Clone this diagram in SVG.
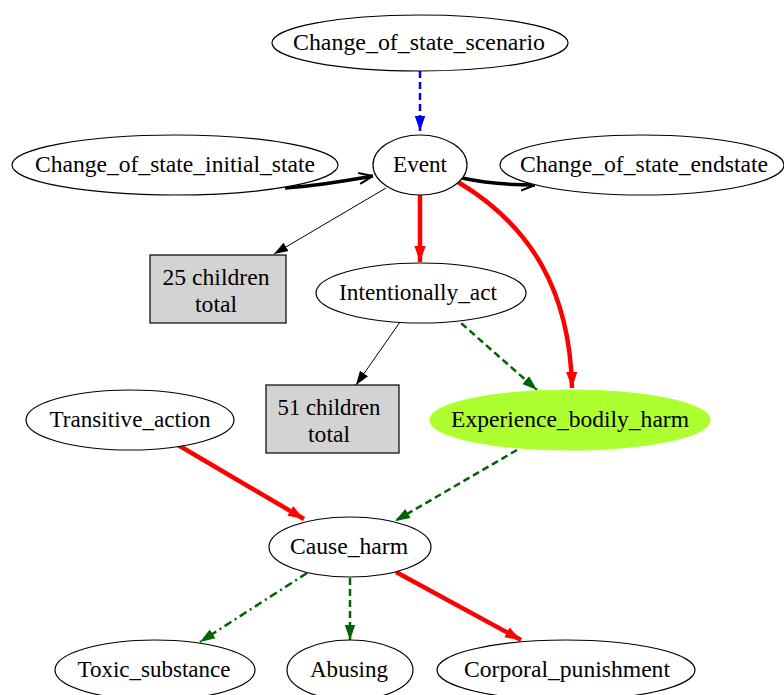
<svg xmlns="http://www.w3.org/2000/svg" width="784" height="695" viewBox="0 0 784 695">
<style>
.n ellipse, .n rect { stroke: #000; stroke-width: 1.2; }
.n ellipse { fill: #fff; }
.box { fill: #d3d3d3; }
text { font-family: "Liberation Serif", "Times New Roman", serif; font-size: 23px; text-anchor: middle; fill: #000; }
.e { fill: none; }
.red { stroke: #ff0000; stroke-width: 4.5; }
.green { stroke: #006400; stroke-width: 2.5; stroke-dasharray: 7,4; }
.blue { stroke: #0000ff; stroke-width: 2.5; stroke-dasharray: 7,4; }
.thin { stroke: #000; stroke-width: 1; }
.thick { stroke: #000; stroke-width: 3.5; }
</style>
<defs>
<marker id="aBlack" viewBox="0 0 10 10" refX="10" refY="5" markerUnits="userSpaceOnUse" markerWidth="14" markerHeight="14" orient="auto"><path d="M0,1.5 L10,5 L0,8.5 Z" fill="#000"/></marker>
<marker id="aRed" viewBox="0 0 10 10" refX="10" refY="5" markerUnits="userSpaceOnUse" markerWidth="16" markerHeight="16" orient="auto"><path d="M0,1.5 L10,5 L0,8.5 Z" fill="#ff0000"/></marker>
<marker id="aGreen" viewBox="0 0 10 10" refX="10" refY="5" markerUnits="userSpaceOnUse" markerWidth="15" markerHeight="15" orient="auto"><path d="M0,1.5 L10,5 L0,8.5 Z" fill="#006400"/></marker>
<marker id="aBlue" viewBox="0 0 10 10" refX="10" refY="5" markerUnits="userSpaceOnUse" markerWidth="15" markerHeight="15" orient="auto"><path d="M0,1.5 L10,5 L0,8.5 Z" fill="#0000ff"/></marker>
<marker id="aOpen" viewBox="0 0 10 10" refX="10" refY="5" markerUnits="userSpaceOnUse" markerWidth="14" markerHeight="14" orient="auto"><path d="M0,1 L10,5 L0,9" fill="none" stroke="#000" stroke-width="1.5"/></marker>
</defs>
<g id="edges">
<path class="e blue" d="M420,71 L420,131" marker-end="url(#aBlue)"/>
<path class="e thick" d="M285,188 C315,186 345,181 373,176" marker-end="url(#aOpen)"/>
<path class="e thick" d="M462,178 C485,183 510,185 535,185" marker-end="url(#aOpen)"/>
<path class="e thin" d="M386,188 L274,254" marker-end="url(#aBlack)"/>
<path class="e red" d="M420,195 L420,262" marker-end="url(#aRed)"/>
<path class="e red" d="M458,182 C530,225 570,290 572,388" marker-end="url(#aRed)"/>
<path class="e thin" d="M400,322 L356,385" marker-end="url(#aBlack)"/>
<path class="e green" d="M453,316 L537,390" marker-end="url(#aGreen)"/>
<path class="e red" d="M178,445 L304,519" marker-end="url(#aRed)"/>
<path class="e green" d="M517,450 L395,521" marker-end="url(#aGreen)"/>
<path class="e green" style="stroke-dasharray:8,4,2,4" d="M307,573 L200,642" marker-end="url(#aGreen)"/>
<path class="e green" d="M350,578 L350,640" marker-end="url(#aGreen)"/>
<path class="e red" d="M396,572 L521,640" marker-end="url(#aRed)"/>
</g>
<g id="Change_of_state_scenario" class="n"><ellipse cx="420" cy="43" rx="148" ry="28"/><text x="419" y="50" textLength="252" lengthAdjust="spacingAndGlyphs">Change_of_state_scenario</text></g>
<g id="Event" class="n"><ellipse cx="420" cy="165" rx="47" ry="30"/><text x="420" y="172" textLength="54" lengthAdjust="spacingAndGlyphs">Event</text></g>
<g id="Change_of_state_initial_state" class="n"><ellipse cx="175" cy="165" rx="163" ry="30"/><text x="175" y="172" textLength="280" lengthAdjust="spacingAndGlyphs">Change_of_state_initial_state</text></g>
<g id="Change_of_state_endstate" class="n"><ellipse cx="642" cy="165" rx="142" ry="30"/><text x="644" y="172" textLength="248" lengthAdjust="spacingAndGlyphs">Change_of_state_endstate</text></g>
<g id="children25" class="n"><rect class="box" x="150" y="255" width="136" height="68"/><text x="216" y="285" textLength="107" lengthAdjust="spacingAndGlyphs">25 children</text><text x="216" y="312" textLength="42" lengthAdjust="spacingAndGlyphs">total</text></g>
<g id="Intentionally_act" class="n"><ellipse cx="421" cy="293" rx="105" ry="30"/><text x="418" y="300" textLength="158" lengthAdjust="spacingAndGlyphs">Intentionally_act</text></g>
<g id="children51" class="n"><rect class="box" x="266" y="385" width="133" height="68"/><text x="329" y="415" textLength="103" lengthAdjust="spacingAndGlyphs">51 children</text><text x="329" y="442" textLength="42" lengthAdjust="spacingAndGlyphs">total</text></g>
<g id="Transitive_action" class="n"><ellipse cx="130" cy="420" rx="104" ry="30"/><text x="130" y="427" textLength="161" lengthAdjust="spacingAndGlyphs">Transitive_action</text></g>
<g id="Experience_bodily_harm" class="n"><ellipse cx="570" cy="420" rx="140" ry="30" style="fill:#adff2f;stroke:#adff2f"/><text x="570" y="427" textLength="238" lengthAdjust="spacingAndGlyphs">Experience_bodily_harm</text></g>
<g id="Cause_harm" class="n"><ellipse cx="350" cy="547" rx="81" ry="30"/><text x="349" y="554" textLength="118" lengthAdjust="spacingAndGlyphs">Cause_harm</text></g>
<g id="Toxic_substance" class="n"><ellipse cx="155" cy="670" rx="100" ry="30"/><text x="154" y="677" textLength="153" lengthAdjust="spacingAndGlyphs">Toxic_substance</text></g>
<g id="Abusing" class="n"><ellipse cx="350" cy="670" rx="63" ry="30"/><text x="349" y="677" textLength="78" lengthAdjust="spacingAndGlyphs">Abusing</text></g>
<g id="Corporal_punishment" class="n"><ellipse cx="566" cy="670" rx="129" ry="30"/><text x="567" y="677" textLength="206" lengthAdjust="spacingAndGlyphs">Corporal_punishment</text></g>
</svg>
